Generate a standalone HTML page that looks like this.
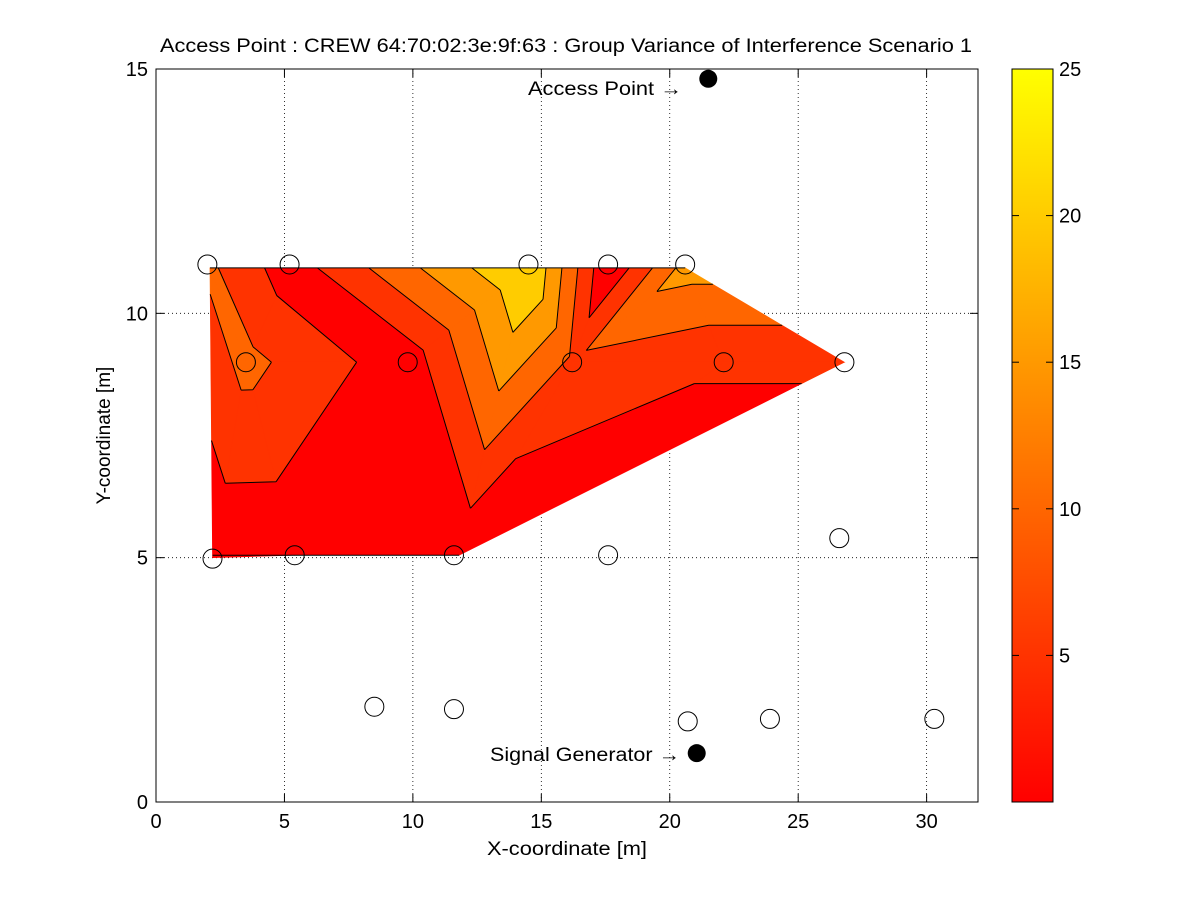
<!DOCTYPE html>
<html><head><meta charset="utf-8">
<style>
body{margin:0;background:#fff;}
svg{display:block;font-family:"Liberation Sans",sans-serif;}
</style></head>
<body>
<svg id="chart" width="1201" height="901" xmlns="http://www.w3.org/2000/svg">
<defs>
<linearGradient id="autumn" x1="0" y1="1" x2="0" y2="0">
<stop offset="0" stop-color="#ff0000"/><stop offset="1" stop-color="#ffff00"/>
</linearGradient>
</defs>
<rect x="0" y="0" width="1201" height="901" fill="#fff"/>
<g id="plot"></g>
</svg>
<script>
// ---- data ----
const ptX = [2.1, 5.2, 14.5, 17.6, 20.6, 3.5, 9.8, 16.2, 22.1, 26.8, 2.2, 5.4, 11.8];
const ptY = [10.93, 10.93, 10.93, 10.93, 10.93, 9, 9, 9, 9, 9, 5, 5.05, 5.05];
const ptV = [10.9, 2.3, 25.5, 0.5, 17, 11.5, 2, 9, 5.5, 5.5, 1, 1, 1];
const tris = [[0,5,10],[0,1,5],[1,5,6],[5,10,11],[5,11,6],[6,11,12],[1,2,6],[2,6,12],[2,7,12],[2,3,7],[3,4,7],[4,7,8],[7,8,12],[4,8,9],[8,9,12]];
const levels = [0, 5, 10, 15, 20, 25];
const extraX = [2, 5.2, 14.5, 17.6, 20.6, 3.5, 9.8, 16.2, 22.1, 26.8, 2.2, 5.4, 11.6, 17.6, 26.6, 8.5, 11.6, 20.7, 23.9, 30.3];
const extraY = [11, 11, 11, 11, 11, 9, 9, 9, 9, 9, 4.98, 5.05, 5.05, 5.05, 5.4, 1.95, 1.9, 1.65, 1.7, 1.7];
const xTicks = [0, 5, 10, 15, 20, 25, 30];
const yTicks = [0, 5, 10, 15];
const cbTicks = [5, 10, 15, 20, 25];
const apX = 21.5, apY = 14.8, sgX = 21.05, sgY = 1.0;

// ---- axes ----
const L=156,R=978,T=69,B=802;
const X=v=>L+(v-0)/(32-0)*(R-L);
const Y=v=>B-(v-0)/(15-0)*(B-T);
const CB=v=>B-(v-0)/(25-0)*(B-T);
const NS="http://www.w3.org/2000/svg";
const g=document.getElementById('plot');
function el(tag,attrs,parent){const e=document.createElementNS(NS,tag);for(const k in attrs)e.setAttribute(k,attrs[k]);(parent||g).appendChild(e);return e;}
function colorFor(v){const t=Math.max(0,Math.min(1,v/25));const gg=Math.round(255*t);return 'rgb(255,'+gg+',0)';}

// grid
const grid=el('g',{});


xTicks.forEach(t=>{if(t>0){el('line',{x1:X(t),x2:X(t),y1:T,y2:B,stroke:'#000','stroke-width':0.8,'stroke-dasharray':'1,3'},grid);}});
yTicks.forEach(t=>{if(t>0&&t<15){el('line',{x1:L,x2:R,y1:Y(t),y2:Y(t),stroke:'#000','stroke-width':0.8,'stroke-dasharray':'1,3'},grid);}});

// filled contour bands
function clip(poly,fn){const out=[];for(let i=0;i<poly.length;i++){const a=poly[i],b=poly[(i+1)%poly.length];const fa=fn(a),fb=fn(b);if(fa>=0)out.push(a);if((fa>=0)!==(fb>=0)){const t=fa/(fa-fb);out.push([a[0]+t*(b[0]-a[0]),a[1]+t*(b[1]-a[1]),a[2]+t*(b[2]-a[2])]);}}return out;}
const bands=el('g',{});


for(let k=0;k<levels.length-1;k++){
  const lo=levels[k],hi=levels[k+1];
  let d='';
  tris.forEach(tr=>{
    let p=tr.map(i=>[ptX[i],ptY[i],ptV[i]]);
    if(k>0)p=clip(p,q=>q[2]-lo);
    if(k<levels.length-2)p=clip(p,q=>hi-q[2]);
    if(p.length>=3)d+='M'+p.map(q=>X(q[0]).toFixed(2)+','+Y(q[1]).toFixed(2)).join('L')+'Z';
  });
  if(d){const b=el('path',{d:d,fill:colorFor(lo),stroke:colorFor(lo),'stroke-width':0.6},bands);
    
    }
}
// contour lines
const lines=el('g',{});


let ld='';
levels.slice(1,-1).forEach(lv=>{
  tris.forEach(tr=>{
    const pts=[];
    for(let i=0;i<3;i++){const a=tr[i],b=tr[(i+1)%3];const va=ptV[a],vb=ptV[b];
      if((va-lv)*(vb-lv)<0){const t=(lv-va)/(vb-va);pts.push([ptX[a]+t*(ptX[b]-ptX[a]),ptY[a]+t*(ptY[b]-ptY[a])]);}}
    if(pts.length===2)ld+='M'+X(pts[0][0])+','+Y(pts[0][1])+'L'+X(pts[1][0])+','+Y(pts[1][1]);
  });
});
el('path',{d:ld,stroke:'#000','stroke-width':1,fill:'none'},lines);
el('line',{x1:X(ptX[0]),y1:Y(ptY[0]),x2:X(ptX[4]),y2:Y(ptY[4]),stroke:'#000','stroke-width':1},lines);
el('line',{x1:X(ptX[10]),y1:Y(ptY[12]),x2:X(ptX[12]),y2:Y(ptY[12]),stroke:'#000','stroke-width':1},lines);

// markers
const mk=el('g',{});


extraX.forEach((x,i)=>{const c=el('circle',{cx:X(x),cy:Y(extraY[i]),r:9.5,fill:'none',stroke:'#000','stroke-width':1},mk);
  
  });
const ap=el('circle',{cx:X(apX),cy:Y(apY),r:9,fill:'#000'});


const sg=el('circle',{cx:X(sgX),cy:Y(sgY),r:9,fill:'#000'});


const apt=el('text',{x:528,y:95,'font-size':19,textLength:154,lengthAdjust:'spacingAndGlyphs'});apt.textContent='Access Point \u2192';


const sgt=el('text',{x:490,y:761,'font-size':19,textLength:190,lengthAdjust:'spacingAndGlyphs'});sgt.textContent='Signal Generator \u2192';



// axes box & ticks
const ax=el('g',{});


el('rect',{x:L,y:T,width:R-L,height:B-T,fill:'none',stroke:'#000','stroke-width':1},ax);
xTicks.forEach(t=>{el('line',{x1:X(t),x2:X(t),y1:B,y2:B-8,stroke:'#000'},ax);el('line',{x1:X(t),x2:X(t),y1:T,y2:T+8,stroke:'#000'},ax);
  const tx=el('text',{x:X(t),y:B+26,'font-size':20,'text-anchor':'middle'},ax);tx.textContent=t;
  
  });
yTicks.forEach(t=>{el('line',{x1:L,x2:L+8,y1:Y(t),y2:Y(t),stroke:'#000'},ax);el('line',{x1:R,x2:R-8,y1:Y(t),y2:Y(t),stroke:'#000'},ax);
  const tx=el('text',{x:L-8,y:Y(t)+7,'font-size':20,'text-anchor':'end'},ax);tx.textContent=t;
  
  });
const xt=el('text',{x:487,y:855,'font-size':19,textLength:160,lengthAdjust:'spacingAndGlyphs'});xt.textContent='X-coordinate [m]';


const yt=el('text',{x:0,y:0,'font-size':19,'text-anchor':'middle',transform:'translate(110,'+((T+B)/2)+') rotate(-90)'});yt.textContent='Y-coordinate [m]';


const tt=el('text',{x:160,y:52,'font-size':19,textLength:812,lengthAdjust:'spacingAndGlyphs'});tt.textContent='Access Point : CREW 64:70:02:3e:9f:63 : Group Variance of Interference Scenario 1';



// colorbar
const cb=el('g',{});


const CL=1012,CR=1053;
el('rect',{x:CL,y:T,width:CR-CL,height:B-T,fill:'url(#autumn)',stroke:'#000','stroke-width':1},cb);
cbTicks.forEach(t=>{el('line',{x1:CL,x2:CL+7,y1:CB(t),y2:CB(t),stroke:'#000'},cb);el('line',{x1:CR,x2:CR-7,y1:CB(t),y2:CB(t),stroke:'#000'},cb);
  const tx=el('text',{x:CR+6,y:CB(t)+7,'font-size':20},cb);tx.textContent=t;
  
  });
</script>
</body></html>
